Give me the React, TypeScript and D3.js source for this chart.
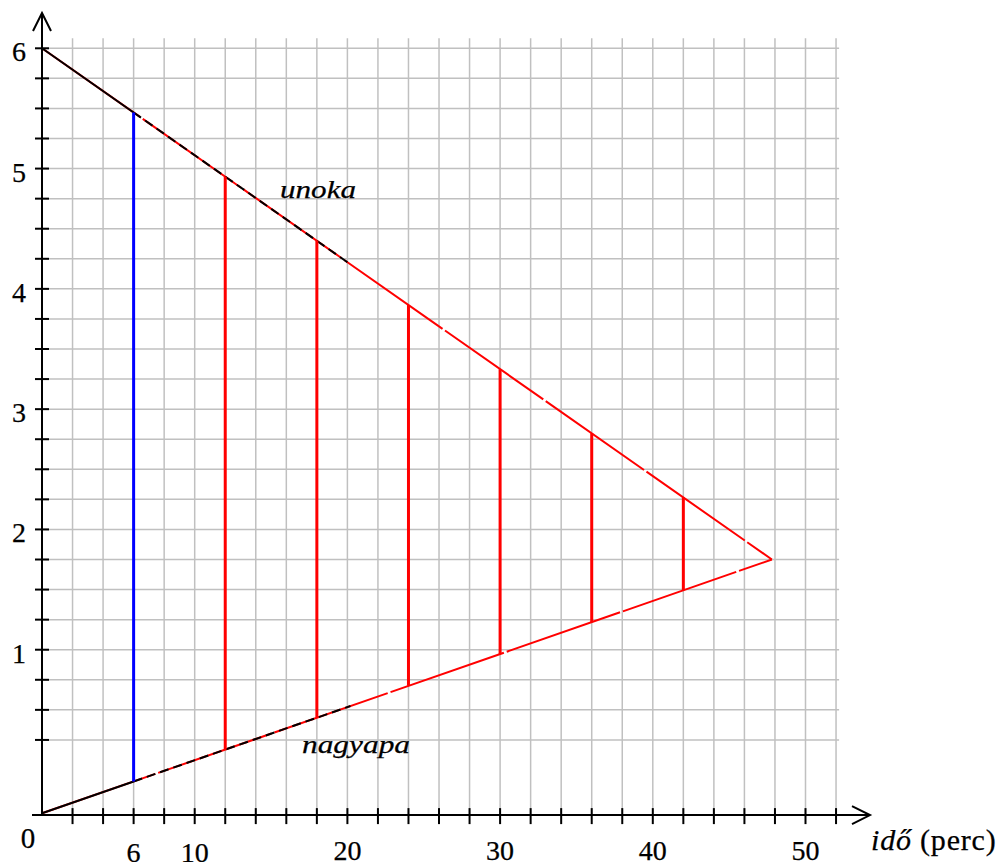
import React from "react";
import * as d3 from "d3";

const xGrid = d3.range(2, 53, 2);
const yGrid = d3.range(0.25, 6.01, 0.25);
const xTickLabels = [6, 10, 20, 30, 40, 50];
const yTickLabels = [1, 2, 3, 4, 5, 6];
const verticalsRed = [12, 18, 24, 30, 36, 42];
const verticalBlue = [6];
const unokaStart = [0, 6];
const apex = [47.8, 1.75];
const nagyapaStart = [0, -0.36];
const dashedEndX = 20.2;
const xAxisLevel = -0.375;

const W = 997;
const H = 862;

export default function App() {
  const x = d3.scaleLinear().domain([0, 50]).range([42, 805.5]);
  const y = d3.scaleLinear().domain([0, 6]).range([770, 48.3]);

  const unokaAt = (t: number) =>
    unokaStart[1] + ((apex[1] - unokaStart[1]) * (t - unokaStart[0])) / (apex[0] - unokaStart[0]);
  const nagyapaAt = (t: number) =>
    nagyapaStart[1] + ((apex[1] - nagyapaStart[1]) * (t - nagyapaStart[0])) / (apex[0] - nagyapaStart[0]);

  const ax0 = x(0);
  const ay0 = y(xAxisLevel);
  const gridTop = 38.3;
  const gridRight = x(52.2);
  const line = d3.line<number[]>().x((d) => x(d[0])).y((d) => y(d[1]));
  const serif = "Liberation Serif, Times New Roman, serif";
  const xLabelY = (v: number) => (v < 20 ? 861.5 : 860);
  const tStroke = { stroke: "#000", strokeWidth: 0.25 };

  return (
    <svg width={W} height={H} style={{ position: "absolute", left: 0, top: 0, background: "#fff" }}>
      <rect x={0} y={0} width={W} height={H} fill="#fff" />
      {/* grid */}
      {xGrid.map((v) => (
        <line key={"gx" + v} x1={x(v)} x2={x(v)} y1={gridTop} y2={ay0} stroke="#c0c0c0" strokeWidth={1.5} />
      ))}
      {yGrid.map((v) => (
        <line key={"gy" + v} x1={ax0} x2={gridRight} y1={y(v)} y2={y(v)} stroke="#c0c0c0" strokeWidth={1.5} />
      ))}
      {/* red main lines */}
      <path d={line([unokaStart, apex]) || ""} fill="none" stroke="#ff0000" strokeWidth={2} strokeDasharray="120 3" />
      <path d={line([nagyapaStart, apex]) || ""} fill="none" stroke="#ff0000" strokeWidth={2} strokeDasharray="120 3" />
      {/* black overlays */}
      <path d={line([unokaStart, [6, unokaAt(6)]]) || ""} fill="none" stroke="#000" strokeWidth={2} />
      <path d={line([[6, unokaAt(6)], [dashedEndX, unokaAt(dashedEndX)]]) || ""} fill="none" stroke="#000" strokeWidth={2} strokeDasharray="9 5" />
      <path d={line([nagyapaStart, [6, nagyapaAt(6)]]) || ""} fill="none" stroke="#000" strokeWidth={2} />
      <path d={line([[6, nagyapaAt(6)], [dashedEndX, nagyapaAt(dashedEndX)]]) || ""} fill="none" stroke="#000" strokeWidth={2} strokeDasharray="9 5" />
      {/* verticals */}
      {verticalsRed.map((v) => (
        <line key={"r" + v} x1={x(v)} x2={x(v)} y1={y(unokaAt(v))} y2={y(nagyapaAt(v))} stroke="#ff0000" strokeWidth={3} />
      ))}
      {verticalBlue.map((v) => (
        <line key={"b" + v} x1={x(v)} x2={x(v)} y1={y(unokaAt(v))} y2={y(nagyapaAt(v))} stroke="#0000ff" strokeWidth={3} />
      ))}
      {/* axes */}
      <line x1={ax0} x2={ax0} y1={14} y2={ay0} stroke="#000" strokeWidth={2} />
      <polyline points={`${ax0 - 9},${31} ${ax0},${13} ${ax0 + 9},${31}`} fill="none" stroke="#000" strokeWidth={2} />
      <line x1={ax0 - 10} x2={869} y1={ay0} y2={ay0} stroke="#000" strokeWidth={2} />
      <polyline points={`${852},${ay0 - 9} ${870},${ay0} ${852},${ay0 + 9}`} fill="none" stroke="#000" strokeWidth={2} />
      {/* ticks */}
      {yGrid.map((v) => (
        <line key={"ty" + v} x1={ax0 - 7} x2={ax0 + 7} y1={y(v)} y2={y(v)} stroke="#000" strokeWidth={2} />
      ))}
      {xGrid.map((v) => (
        <line key={"tx" + v} x1={x(v)} x2={x(v)} y1={ay0 - 7} y2={ay0 + 9} stroke="#000" strokeWidth={2} />
      ))}
      {/* labels */}
      {yTickLabels.map((v) => (
        <text key={"ly" + v} x={19} y={y(v) + 13} fontFamily={serif} fontSize={28} textAnchor="middle" {...tStroke}>{v}</text>
      ))}
      {xTickLabels.map((v) => (
        <text key={"lx" + v} x={x(v)} y={xLabelY(v)} fontFamily={serif} fontSize={28} textAnchor="middle" {...tStroke}>{v}</text>
      ))}
      <text x={28} y={848} fontFamily={serif} fontSize={29} textAnchor="middle" {...tStroke}>0</text>
      <text x={871} y={850} fontFamily={serif} fontSize={30} letterSpacing={0.8} {...tStroke}>
        <tspan fontStyle="italic">idő</tspan>
        <tspan> (perc)</tspan>
      </text>
      <text x={280} y={197.5} fontFamily={serif} fontSize={26} fontStyle="italic" textLength={76} lengthAdjust="spacingAndGlyphs" {...tStroke}>unoka</text>
      <text x={302} y={753} fontFamily={serif} fontSize={26} fontStyle="italic" textLength={108} lengthAdjust="spacingAndGlyphs" {...tStroke}>nagyapa</text>
    </svg>
  );
}
